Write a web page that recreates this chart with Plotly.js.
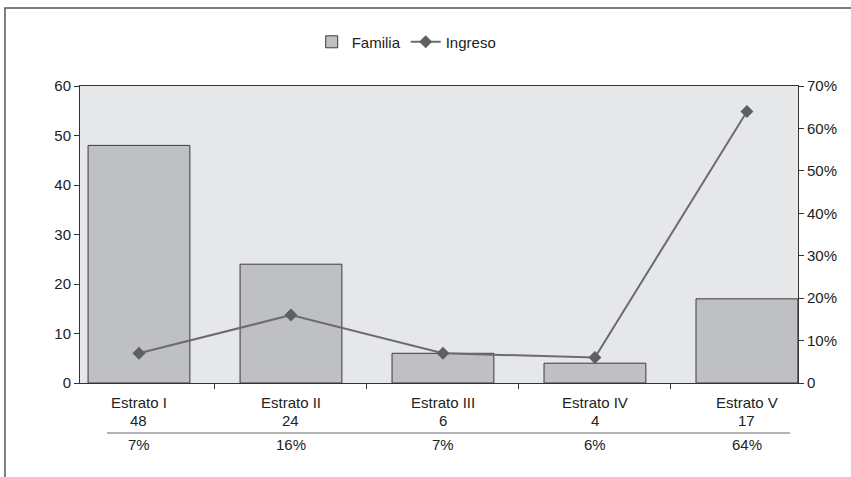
<!DOCTYPE html>
<html>
<head>
<meta charset="utf-8">
<script src="https://cdn.plot.ly/plotly-3.0.1.min.js"></script>
<style>
  html, body { margin: 0; padding: 0; background: #ffffff; }
  #chart { width: 851px; height: 477px; }
</style>
</head>
<body>
<div id="chart"></div>
<script>
// Households (Familia) and share of income (Ingreso) by stratum
const categories = ["Estrato I", "Estrato II", "Estrato III", "Estrato IV", "Estrato V"];
const familia = [48, 24, 6, 4, 17];
const ingreso = [0.07, 0.16, 0.07, 0.06, 0.64];
const leftTicks = [0, 10, 20, 30, 40, 50, 60];
const rightTickVals = [0, 0.1, 0.2, 0.3, 0.4, 0.5, 0.6, 0.7];
const rightTickText = ["0", "10%", "20%", "30%", "40%", "50%", "60%", "70%"];

const FONT = "Liberation Sans, Arial, sans-serif";
const TXT = "#222222";
const idx = categories.map((_, i) => i);

const traces = [
  {
    type: "bar",
    name: "Familia",
    x: idx,
    y: familia,
    width: 0.67,
    marker: { color: "#bfc0c3", line: { color: "#3a3a3a", width: 1 } },
    hoverinfo: "y"
  },
  {
    type: "scatter",
    mode: "lines+markers",
    name: "Ingreso",
    x: idx,
    y: ingreso,
    yaxis: "y2",
    line: { color: "#6b6c6f", width: 2 },
    marker: { symbol: "diamond", size: 10, color: "#5e5f62" },
    hoverinfo: "y"
  }
];

// data table under the axis: name, household count, income share
const annotations = [];
const rows = [
  { vals: categories, y: -0.067 },
  { vals: familia.map(String), y: -0.126 },
  { vals: ingreso.map(v => Math.round(v * 100) + "%"), y: -0.206 }
];
rows.forEach(r => {
  r.vals.forEach((t, i) => {
    annotations.push({
      x: i, y: r.y, xref: "x", yref: "paper",
      text: t, showarrow: false,
      xanchor: "center", yanchor: "middle",
      font: { family: FONT, size: 15, color: TXT }
    });
  });
});

const layout = {
  width: 851,
  height: 477,
  margin: { l: 80, r: 53, t: 86, b: 94, pad: 0 },
  paper_bgcolor: "#ffffff",
  plot_bgcolor: "#e6e7e9",
  font: { family: FONT, size: 15, color: TXT },
  showlegend: true,
  legend: {
    orientation: "h",
    x: 0.455, xanchor: "center",
    y: 1.148, yanchor: "middle",
    font: { family: FONT, size: 15, color: TXT },
    bgcolor: "rgba(0,0,0,0)"
  },
  bargap: 0.33,
  xaxis: {
    type: "linear",
    range: [-0.388, 4.336],
    tickvals: [0.5, 1.5, 2.5, 3.5],
    showticklabels: false,
    ticks: "outside",
    ticklen: 5,
    tickcolor: "#333333",
    showline: true,
    linecolor: "#333333",
    linewidth: 1,
    mirror: true,
    showgrid: false,
    zeroline: false,
    fixedrange: true
  },
  yaxis: {
    range: [0, 60],
    tickvals: leftTicks,
    ticks: "outside",
    ticklen: 5,
    tickcolor: "#333333",
    showline: true,
    linecolor: "#333333",
    linewidth: 1,
    showgrid: false,
    zeroline: false,
    tickfont: { family: FONT, size: 15, color: TXT },
    fixedrange: true
  },
  yaxis2: {
    overlaying: "y",
    side: "right",
    range: [0, 0.7],
    tickvals: rightTickVals,
    ticktext: rightTickText,
    ticks: "outside",
    ticklen: 5,
    tickcolor: "#333333",
    showline: true,
    linecolor: "#333333",
    linewidth: 1,
    showgrid: false,
    zeroline: false,
    tickfont: { family: FONT, size: 15, color: TXT },
    fixedrange: true
  },
  shapes: [
    // outer chart frame
    {
      type: "rect", xref: "paper", yref: "paper",
      x0: -0.1045, x1: 1.3, y0: -0.5, y1: 1.2626,
      line: { color: "#555555", width: 1.5 },
      fillcolor: "rgba(0,0,0,0)", layer: "below"
    },
    // rule between counts and shares in the table
    {
      type: "line", xref: "paper", yref: "paper",
      x0: 0.0376, x1: 0.989, y0: -0.1684, y1: -0.1684,
      line: { color: "#666666", width: 1 }
    }
  ],
  annotations: annotations
};

Plotly.newPlot("chart", traces, layout, { displayModeBar: false, staticPlot: true });
</script>
</body>
</html>
